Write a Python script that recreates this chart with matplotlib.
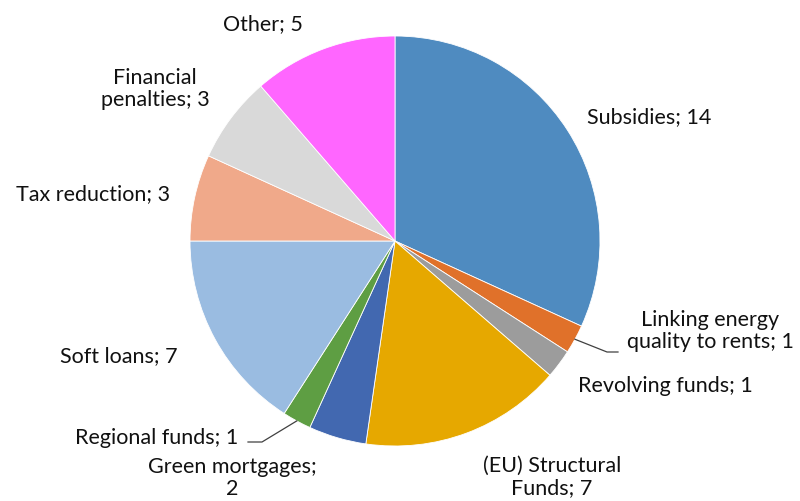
import numpy as np
import matplotlib.pyplot as plt

labels = ["Subsidies", "Linking energy\nquality to rents", "Revolving funds",
          "(EU) Structural\nFunds", "Green mortgages;\n", "Regional funds",
          "Soft loans", "Tax reduction", "Financial\npenalties", "Other"]
values = [14, 1, 1, 7, 2, 1, 7, 3, 3, 5]
colors = ["#4F8BC0", "#E0712A", "#9C9C9C", "#E6A800", "#4268B0", "#5E9E43",
          "#9ABCE1", "#F0A98A", "#D9D9D9", "#FF66FF"]

# label centres in pixel coords (x, y from top)
label_pos = [(649, 117), (710, 331), (665, 386), (552, 477), (232, 478),
             (157, 438), (119, 356), (93, 194), (155, 89), (263, 24)]

W, H = 800, 502
cx, cy, R = 395, H - 242, 205

plt.rcParams['font.family'] = ['Lato', 'DejaVu Sans']
fig = plt.figure(figsize=(8, 5.02), dpi=100)
ax = fig.add_axes([0, 0, 1, 1])

wedges, _ = ax.pie(values, colors=colors, startangle=90, counterclock=False,
                   center=(cx, cy), radius=R,
                   wedgeprops=dict(edgecolor="white", linewidth=0.6))
ax.set_xlim(0, W)
ax.set_ylim(0, H)
ax.set_aspect("equal")
ax.axis("off")

for lab, v, (px, py) in zip(labels, values, label_pos):
    if lab.endswith("\n"):
        txt = lab + str(v)
    else:
        txt = "%s; %d" % (lab, v)
    ax.text(px, H - py, txt, ha="center", va="center", fontsize=15.5,
            linespacing=1.15, color="#111111")

# leader lines for the two small slices
def leader(i, bend, end):
    w = wedges[i]
    ang = np.deg2rad((w.theta1 + w.theta2) / 2)
    x0 = cx + R * np.cos(ang)
    y0 = cy + R * np.sin(ang)
    ax.plot([x0, bend[0], end[0]], [y0, H - bend[1], H - end[1]],
            color="#404040", lw=0.9)

leader(1, (607, 353), (618, 353))
leader(5, (262, 443), (248, 443))

fig.savefig("out.png", dpi=100)
